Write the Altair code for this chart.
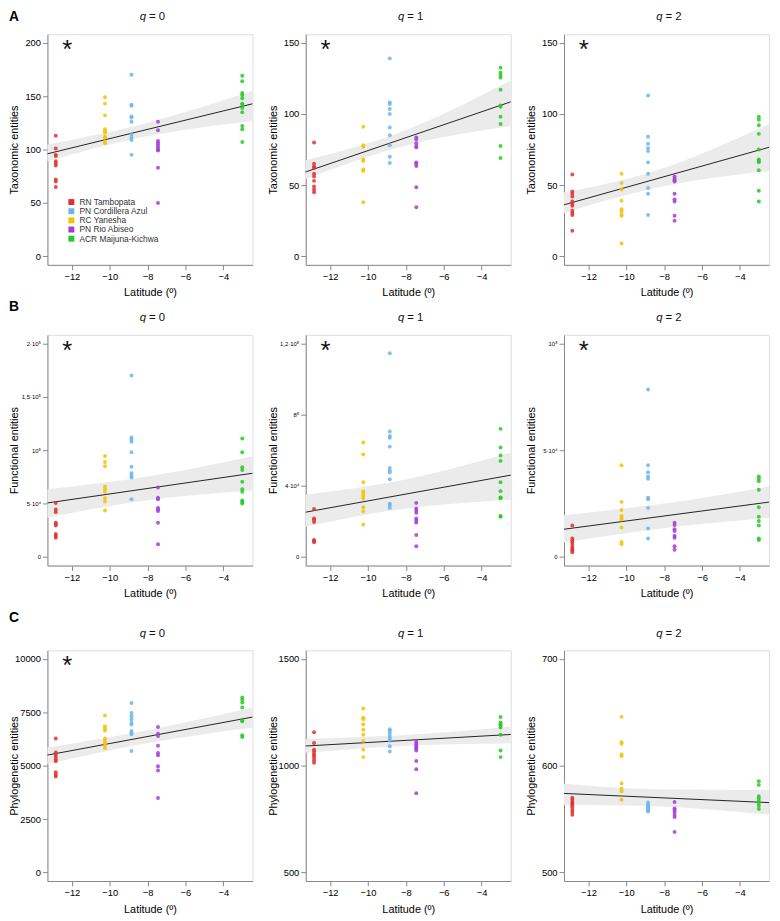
import altair as alt
import pandas as pd

SITES = ["RN Tambopata", "PN Cordillera Azul", "RC Yanesha", "PN Rio Abiseo", "ACR Maijuna-Kichwa"]
COLORS = ["#DC3232", "#6BB5EC", "#F3C300", "#A23DD6", "#27C927"]
SITE_LAT = [-12.85, -8.85, -10.25, -7.45, -3.0]

X_DOMAIN = [-13.29, -2.46]
X_TICKS = [-12, -10, -8, -6, -4]
FIT_LAT = [-13.29, -2.46]
BAND_LAT = [-13.29, -8.5, -2.46]

# ---------------- Taxonomic entities ----------------
TAX_Q0 = {
    "RN Tambopata": [113, 101, 95, 94, 89, 87, 85, 72, 70, 65],
    "PN Cordillera Azul": [170, 142, 141, 131, 130, 126, 114, 111, 109, 95],
    "RC Yanesha": [149, 143, 132, 119, 117, 116, 112, 111, 107, 106],
    "PN Rio Abiseo": [126, 118, 108, 106, 104, 102, 100, 99, 83, 50],
    "ACR Maijuna-Kichwa": [169, 164, 153, 151, 148, 143, 142, 139, 135, 122, 119, 107],
}
TAX_Q0_FIT = [96, 142.8]
TAX_Q0_LO = [89, 110.7, 126.8]
TAX_Q0_HI = [104.6, 122.7, 155]

TAX_Q1 = {
    "RN Tambopata": [80, 65, 63, 62, 58, 56, 53, 49, 47, 45],
    "PN Cordillera Azul": [139, 108, 107, 103.5, 100, 90.5, 85, 78, 70, 65.5],
    "RC Yanesha": [91, 78, 77, 68, 67, 61, 60, 38],
    "PN Rio Abiseo": [83.5, 82, 79.5, 77.5, 76.5, 66, 65, 63.5, 48.5, 34.5],
    "ACR Maijuna-Kichwa": [132.5, 129, 127, 125.5, 117, 106, 105, 98, 93, 77.5, 69],
}
TAX_Q1_FIT = [59.3, 108.5]
TAX_Q1_LO = [54.2, 76, 91.6]
TAX_Q1_HI = [67.4, 86, 123.5]

TAX_Q2 = {
    "RN Tambopata": [57.5, 45.5, 44, 42, 38.5, 37, 35.5, 32, 30.5, 29, 18],
    "PN Cordillera Azul": [113, 84, 79, 76, 74, 66, 58, 48, 44, 29],
    "RC Yanesha": [58, 51.5, 47, 39, 33, 31.5, 29, 28.5, 9],
    "PN Rio Abiseo": [56, 54.5, 53.5, 52.5, 44, 40, 38.5, 28.5, 25],
    "ACR Maijuna-Kichwa": [98, 96, 92, 86, 75, 68, 67, 66, 60.5, 46, 38.5],
}
TAX_Q2_FIT = [36.2, 76.6]
TAX_Q2_LO = [30.5, 48, 60]
TAX_Q2_HI = [44.8, 60, 93]

# ---------------- Functional entities ----------------
FUN_Q0 = {
    "RN Tambopata": [50500, 44500, 42000, 32000, 31000, 29500, 21500, 20000, 18000],
    "PN Cordillera Azul": [170000, 112000, 110000, 108000, 98000, 84500, 78500, 76000, 74500, 54000],
    "RC Yanesha": [94500, 89000, 85000, 66000, 63500, 61000, 55000, 52000, 43500],
    "PN Rio Abiseo": [65000, 55500, 54000, 46000, 44500, 43000, 32000, 12000],
    "ACR Maijuna-Kichwa": [111000, 98000, 84000, 81500, 70500, 63500, 61000, 53000, 51500, 50000],
}
FUN_Q0_FIT = [50600, 78400]
FUN_Q0_LO = [36700, 52000, 62300]
FUN_Q0_HI = [63600, 74000, 94400]

FUN_Q1 = {
    "RN Tambopata": [27000, 21700, 20800, 19600, 9600, 9000, 8300],
    "PN Cordillera Azul": [114500, 70500, 68000, 67000, 62000, 50000, 48500, 47500, 43700, 30000, 29000, 27600],
    "RC Yanesha": [64300, 57600, 42000, 37000, 36000, 34500, 33000, 28000, 25700, 18300],
    "PN Rio Abiseo": [30400, 27200, 26000, 24800, 21700, 20500, 19300, 12400, 6000],
    "ACR Maijuna-Kichwa": [72000, 61500, 57000, 54000, 42000, 37000, 33500, 33000, 23000, 22600],
}
FUN_Q1_FIT = [25200, 46000]
FUN_Q1_LO = [17000, 26500, 32200]
FUN_Q1_HI = [35000, 42500, 58700]

FUN_Q2 = {
    "RN Tambopata": [14800, 8700, 7600, 6800, 5600, 4500, 3700, 3000, 2200],
    "PN Cordillera Azul": [78400, 43000, 39700, 37700, 36600, 27700, 27000, 23000, 13300, 8700],
    "RC Yanesha": [43000, 25800, 22000, 19200, 18400, 17600, 13800, 7000, 6000],
    "PN Rio Abiseo": [16000, 15000, 13000, 12200, 10000, 9000, 5000, 3400],
    "ACR Maijuna-Kichwa": [37700, 36600, 35500, 31500, 23300, 18900, 16900, 14800, 8700, 8000],
}
FUN_Q2_FIT = [13000, 25700]
FUN_Q2_LO = [6800, 13000, 18400]
FUN_Q2_HI = [19600, 24500, 33000]

# ---------------- Phylogenetic entities ----------------
PHY_Q0 = {
    "RN Tambopata": [6270, 5620, 5510, 5400, 5290, 5210, 4690, 4580, 4490],
    "PN Cordillera Azul": [7930, 7470, 7310, 7160, 7000, 6930, 6620, 6540, 6470, 5690],
    "RC Yanesha": [7350, 6850, 6740, 6650, 6270, 6160, 6050, 5930, 5820],
    "PN Rio Abiseo": [6810, 6500, 6390, 5930, 5590, 5490, 4970, 4770, 3490],
    "ACR Maijuna-Kichwa": [8190, 8090, 7960, 7720, 7110, 7080, 6420, 6340],
}
PHY_Q0_FIT = [5495, 7275]
PHY_Q0_LO = [5080, 5980, 6790]
PHY_Q0_HI = [5850, 6580, 7720]

PHY_Q1 = {
    "RN Tambopata": [1156, 1106, 1075, 1066, 1055, 1048, 1037, 1025, 1014],
    "PN Cordillera Azul": [1171, 1163, 1153, 1140, 1128, 1117, 1091, 1066],
    "RC Yanesha": [1268, 1225, 1217, 1194, 1168, 1145, 1116, 1075, 1040],
    "PN Rio Abiseo": [1112, 1103, 1094, 1086, 1079, 1071, 1022, 983, 871],
    "ACR Maijuna-Kichwa": [1228, 1202, 1194, 1188, 1179, 1145, 1071, 1040],
}
PHY_Q1_FIT = [1092, 1146]
PHY_Q1_LO = [1060, 1091, 1105]
PHY_Q1_HI = [1125, 1141, 1183]

PHY_Q2 = {
    "RN Tambopata": [570, 568, 566, 564.5, 563, 561, 558.5, 556.5, 554],
    "PN Cordillera Azul": [565.5, 563.5, 562, 561, 559.5, 558, 557],
    "RC Yanesha": [645.7, 622, 620.5, 610.5, 609, 583.5, 578.5, 576, 568],
    "PN Rio Abiseo": [566, 560, 558.5, 556.5, 554, 552, 538],
    "ACR Maijuna-Kichwa": [585.5, 582, 571.5, 569.5, 567, 565, 562.5, 559.5],
}
PHY_Q2_FIT = [574, 565.4]
PHY_Q2_LO = [563.3, 562, 554]
PHY_Q2_HI = [583.3, 578, 577.2]

TAX_TITLE = "Taxonomic entities"
FUN_TITLE = "Functional entities"
PHY_TITLE = "Phylogenetic entities"

W, H = 208, 234
FONT = "Liberation Sans"


def label_expr(ticks, labels):
    expr = "''"
    for t, l in reversed(list(zip(ticks, labels))):
        expr = f"datum.value == {t} ? '{l}' : ({expr})"
    return expr


def one(data, fit, lo, hi, q, ytitle, ydom, yticks, ylabels=None, star=True,
        letter=None, letter_dy=-18, legend=False, label_size=9.5):
    rows = []
    for site, lat in zip(SITES, SITE_LAT):
        for v in data[site]:
            rows.append({"site": site, "lat": lat, "val": v})
    pts = pd.DataFrame(rows)
    band = pd.DataFrame({"lat": BAND_LAT, "lo": lo, "hi": hi})
    line = pd.DataFrame({"lat": FIT_LAT, "val": fit})

    xsc = alt.Scale(domain=X_DOMAIN, nice=False, zero=False)
    ysc = alt.Scale(domain=ydom, nice=False, zero=False)
    xax = alt.Axis(values=X_TICKS, title="Latitude (º)", grid=False, titleFontWeight="normal",
                   labelFontSize=9.5, titlePadding=6)
    yax_kw = dict(values=yticks, title=ytitle, grid=False, labelFontSize=label_size,
                  titleFontWeight="normal", format="d", minExtent=26, maxExtent=26,
                  titlePadding=2)
    if ylabels is not None:
        yax_kw["labelExpr"] = label_expr(yticks, ylabels)
    yax = alt.Axis(**yax_kw)

    x = alt.X("lat:Q", scale=xsc, axis=xax)

    b = alt.Chart(band).mark_area(color="#EBEBEB", interpolate="monotone").encode(
        x=x, y=alt.Y("lo:Q", scale=ysc, axis=yax), y2="hi:Q")
    l = alt.Chart(line).mark_line(color="#222222", strokeWidth=1).encode(
        x=x, y=alt.Y("val:Q", scale=ysc, axis=yax))
    if legend:
        leg = alt.Legend(title=None, orient="none", legendX=20, legendY=166,
                         symbolType="square", symbolSize=36, symbolStrokeWidth=0,
                         symbolOpacity=1, labelFontSize=8.5, labelColor="#333333",
                         rowPadding=0.3, labelFont=FONT)
    else:
        leg = None
    p = alt.Chart(pts).mark_circle(size=16, opacity=0.85).encode(
        x=x, y=alt.Y("val:Q", scale=ysc, axis=yax),
        color=alt.Color("site:N", scale=alt.Scale(domain=SITES, range=COLORS), legend=leg))

    layers = [b, l, p]
    d = pd.DataFrame({"t": ["q"]})
    layers.append(alt.Chart(d).mark_text(fontStyle="italic", fontSize=11.5, font=FONT,
                                         align="right", baseline="middle", color="#111")
                  .encode(text="t:N", x=alt.value(W / 2 - 4), y=alt.value(-17)))
    d2 = pd.DataFrame({"t": [f"= {q}"]})
    layers.append(alt.Chart(d2).mark_text(fontSize=11.5, font=FONT, align="left",
                                          baseline="middle", color="#111")
                  .encode(text="t:N", x=alt.value(W / 2 - 1), y=alt.value(-17)))
    if star:
        d3 = pd.DataFrame({"t": ["*"]})
        layers.append(alt.Chart(d3).mark_text(fontSize=26, font=FONT, align="center",
                                              baseline="middle", color="#111")
                      .encode(text="t:N", x=alt.value(20), y=alt.value(16)))
    if letter:
        d4 = pd.DataFrame({"t": [letter]})
        layers.append(alt.Chart(d4).mark_text(fontSize=14, fontWeight="bold", font=FONT,
                                              align="center", baseline="middle", color="#000")
                      .encode(text="t:N", x=alt.value(-34), y=alt.value(letter_dy)))
    return alt.layer(*layers).properties(width=W, height=H)


A1 = one(TAX_Q0, TAX_Q0_FIT, TAX_Q0_LO, TAX_Q0_HI, 0, TAX_TITLE, [-8, 208], [0, 50, 100, 150, 200],
         letter="A", letter_dy=-17, legend=True)
A2 = one(TAX_Q1, TAX_Q1_FIT, TAX_Q1_LO, TAX_Q1_HI, 1, TAX_TITLE, [-6, 156], [0, 50, 100, 150])
A3 = one(TAX_Q2, TAX_Q2_FIT, TAX_Q2_LO, TAX_Q2_HI, 2, TAX_TITLE, [-6, 156], [0, 50, 100, 150])

B1 = one(FUN_Q0, FUN_Q0_FIT, FUN_Q0_LO, FUN_Q0_HI, 0, FUN_TITLE, [-8000, 208000],
         [0, 50000, 100000, 150000, 200000], ["0", "5·10⁴", "10⁵", "1,5·10⁵", "2·10⁵"],
         letter="B", letter_dy=-28, label_size=6)
B2 = one(FUN_Q1, FUN_Q1_FIT, FUN_Q1_LO, FUN_Q1_HI, 1, FUN_TITLE, [-4800, 124800],
         [0, 40000, 80000, 120000], ["0", "4·10⁴", "8⁵", "1,2·10⁵"], label_size=6)
B3 = one(FUN_Q2, FUN_Q2_FIT, FUN_Q2_LO, FUN_Q2_HI, 2, FUN_TITLE, [-4000, 104000],
         [0, 50000, 100000], ["0", "5·10⁴", "10⁵"], label_size=6)

C1 = one(PHY_Q0, PHY_Q0_FIT, PHY_Q0_LO, PHY_Q0_HI, 0, PHY_TITLE, [-400, 10400],
         [0, 2500, 5000, 7500, 10000], letter="C", letter_dy=-33)
C2 = one(PHY_Q1, PHY_Q1_FIT, PHY_Q1_LO, PHY_Q1_HI, 1, PHY_TITLE, [460, 1540],
         [500, 1000, 1500], star=False)
C3 = one(PHY_Q2, PHY_Q2_FIT, PHY_Q2_LO, PHY_Q2_HI, 2, PHY_TITLE, [492, 708],
         [500, 600, 700], star=False)

rowA = alt.hconcat(A1, A2, A3, spacing=54, bounds="flush")
rowB = alt.hconcat(B1, B2, B3, spacing=54, bounds="flush")
rowC = alt.hconcat(C1, C2, C3, spacing=54, bounds="flush")
top = alt.vconcat(rowA, rowB, spacing=1)

chart = alt.vconcat(top, rowC, spacing=11).properties(
    padding={"left": 0, "top": -5, "right": 0, "bottom": 0}
).configure_view(stroke=None).configure_axis(
    domainColor="#000000", domainWidth=1.5, tickColor="#000000", tickWidth=1.2, tickSize=4,
    labelColor="#333333", labelFont=FONT, titleFont=FONT, titleFontSize=11,
    titleFontWeight="normal", titleColor="#111111", labelPadding=3,
).configure(background="white")

chart.save("out.html", embed_options={"renderer": "svg", "actions": False})
